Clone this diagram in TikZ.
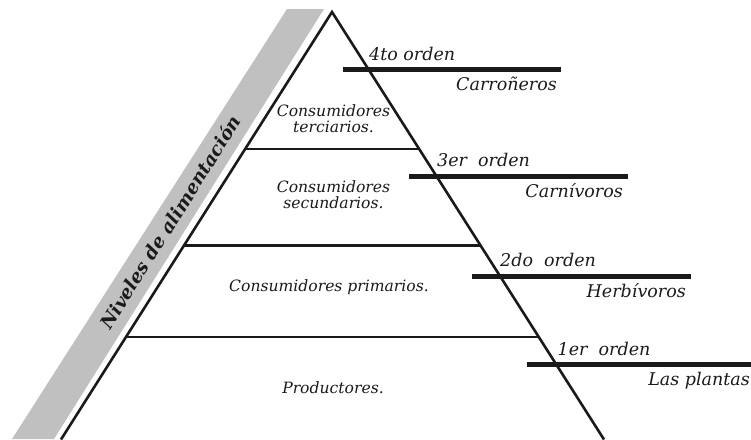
\documentclass[tikz,border=0pt]{standalone}
\usepackage{fontspec}
\setmainfont{DejaVu Serif}
\usetikzlibrary{calc}
\definecolor{ink}{HTML}{1A1A1A}
\definecolor{band}{HTML}{C0C0C0}
\tikzset{
  side/.style={draw=ink, line width=2.6pt, line join=miter},
  level/.style={draw=ink, line width=2.6pt},
  bar/.style={draw=ink, line width=5.5pt},
  lbl/.style={inner sep=0pt, text=ink, font=\fontsize{17.5}{20}\selectfont\itshape},
  inlbl/.style={inner sep=0pt, text=ink, align=center, font=\fontsize{15.6}{18}\selectfont\itshape},
}
\begin{document}
\begin{tikzpicture}[x=1pt,y=-1pt]
\useasboundingbox (0,0) rectangle (751,439);
% gray band
\fill[band] (287,9) -- (324,9) -- (54,439) -- (12,439) -- cycle;
\node[inner sep=0pt, text=ink, rotate=57.9, font=\fontsize{18.4}{20}\selectfont\bfseries\itshape] (title) at (170,222) {Niveles de alimentación};
% pyramid
\coordinate (A) at (332,12);
\coordinate (BL) at (61,439.5);
\coordinate (BR) at (604,439.5);
\draw[side] (BL) -- (A) -- (BR);
\foreach \f/\n in {0.3208/l1, 0.5468/l2, 0.7600/l3}{
  \coordinate (\n a) at ($(A)!\f!(BL)$);
  \coordinate (\n b) at ($(A)!\f!(BR)$);
  \draw[level] (\n a) -- (\n b);
}
% order bars
\coordinate (b4a) at (343,69.7); \coordinate (b4b) at (561,69.7);
\coordinate (b3a) at (409,176.7); \coordinate (b3b) at (628,176.7);
\coordinate (b2a) at (472,276.7); \coordinate (b2b) at (691,276.7);
\coordinate (b1a) at (527,364.7); \coordinate (b1b) at (752,364.7);
\draw[bar] (b4a) -- (b4b);
\draw[bar] (b3a) -- (b3b);
\draw[bar] (b2a) -- (b2b);
\draw[bar] (b1a) -- (b1b);
% outer labels
\node[lbl, anchor=base west] (o4) at (369,60) {4to orden};
\node[lbl, anchor=base east] (c4) at (557,90.5) {Carroñeros};
\node[lbl, anchor=base west] (o3) at (437,166.7) {3er\ \ orden};
\node[lbl, anchor=base east] (c3) at (623,197.3) {Carnívoros};
\node[lbl, anchor=base west] (o2) at (500,266.7) {2do\ \ orden};
\node[lbl, anchor=base east] (c2) at (686,297.3) {Herbívoros};
\node[lbl, anchor=base west] (o1) at (557.5,355) {1er\ \ orden};
\node[lbl, anchor=base east] (c1) at (750,385.7) {Las plantas};
% inner labels
\node[inlbl, anchor=base] (t1) at (333.5,116.7) {Consumidores};
\node[inlbl, anchor=base] (t2) at (333.5,132.3) {terciarios.};
\node[inlbl, anchor=base] (s1) at (333.5,192.7) {Consumidores};
\node[inlbl, anchor=base] (s2) at (333.5,208.3) {secundarios.};
\node[inlbl, anchor=base] (p1) at (329,291) {Consumidores primarios.};
\node[inlbl, anchor=base] (pr) at (333,393) {Productores.};
\end{tikzpicture}
\end{document}
